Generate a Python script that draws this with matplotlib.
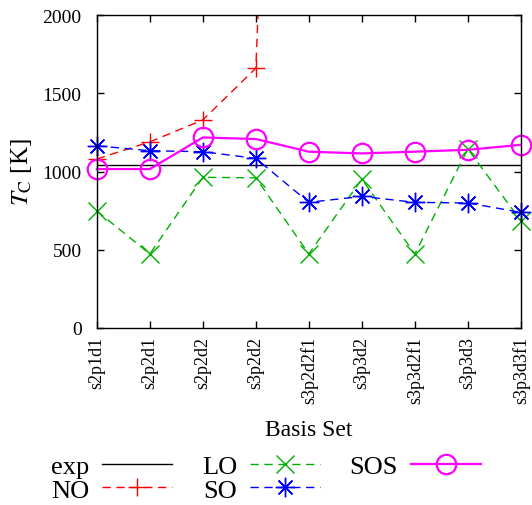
import numpy as np
import matplotlib
matplotlib.use("Agg")
import matplotlib.pyplot as plt
from matplotlib.lines import Line2D

# data
basis = ["s2p1d1", "s2p2d1", "s2p2d2", "s3p2d2", "s3p2d2f1",
         "s3p3d2", "s3p3d2f1", "s3p3d3", "s3p3d3f1"]
exp_tc = 1043
no_tc = [1080, 1190, 1330, 1661, 10000, np.nan, np.nan, np.nan, np.nan]
lo_tc = [748, 473, 963, 960, 473, 952, 473, 1144, 686]
so_tc = [1165, 1133, 1127, 1084, 803, 841, 803, 799, 739]
sos_tc = [1016, 1016, 1218, 1208, 1127, 1116, 1127, 1139, 1171]

plt.rcParams["font.family"] = ["Liberation Serif", "DejaVu Serif"]
plt.rcParams["mathtext.fontset"] = "stix"

fig = plt.figure(figsize=(5.32, 5.06), dpi=100)
ax = fig.add_axes([0.182, 0.35, 0.797, 0.618])

x = np.arange(len(basis))
dash = (0, (6, 4))
asterisk = (8, 2, 0)

ax.axhline(exp_tc, color="black", lw=1.0)

# NO: line clipped at the top, markers drawn only where inside the range
no_arr = np.array(no_tc)
ax.plot(x, no_arr, color="#ff0000", ls=dash, lw=1.0)
inside = no_arr <= 2000
ax.plot(x[inside], no_arr[inside], ls="none", color="#ff0000", marker="+",
        ms=13, mew=1.0, clip_on=False)

ax.plot(x, lo_tc, color="#00b000", ls=dash, lw=1.0, marker="x",
        ms=13, mew=1.0, clip_on=False)
ax.plot(x, so_tc, color="#0000ff", ls=dash, lw=1.0, marker=asterisk,
        ms=14, mew=1.0, clip_on=False)
ax.plot(x, sos_tc, color="#ff00ff", lw=1.6, marker="o", ms=14,
        mfc="none", mew=1.6, clip_on=False)

ax.set_xlim(0, len(basis) - 1)
ax.set_ylim(0, 2000)
ax.set_xticks(x)
ax.set_xticklabels(basis, rotation=90, fontsize=13)
ax.set_yticks([0, 500, 1000, 1500, 2000])
ax.tick_params(axis="y", labelsize=14, pad=11)
ax.tick_params(axis="x", pad=6)
ax.tick_params(direction="in", top=True, right=True, length=5, width=1)
ax.set_xlabel("Basis Set", fontsize=17, labelpad=11)
ax.set_ylabel(r"$T_{\rm C}$ [K]", fontsize=18, labelpad=6)

for s in ax.spines.values():
    s.set_linewidth(1.0)

handles = [
    Line2D([], [], color="black", lw=1.0),
    Line2D([], [], color="#ff0000", ls=dash, lw=1.0, marker="+", ms=13),
    Line2D([], [], color="#00b000", ls=dash, lw=1.0, marker="x", ms=13),
    Line2D([], [], color="#0000ff", ls=dash, lw=1.0, marker=asterisk, ms=14),
    Line2D([], [], color="#ff00ff", lw=1.6, marker="o", ms=14, mfc="none", mew=1.6),
]
labels = ["exp", "NO", "LO", "SO", "SOS"]
fig.legend(handles, labels, loc="center", bbox_to_anchor=(0.5, 0.053), ncol=3,
           frameon=False, markerfirst=False, fontsize=19, handlelength=2.65,
           columnspacing=1.12, labelspacing=0.0, handletextpad=0.5,
           numpoints=1)

fig.savefig("out.png", dpi=100)
